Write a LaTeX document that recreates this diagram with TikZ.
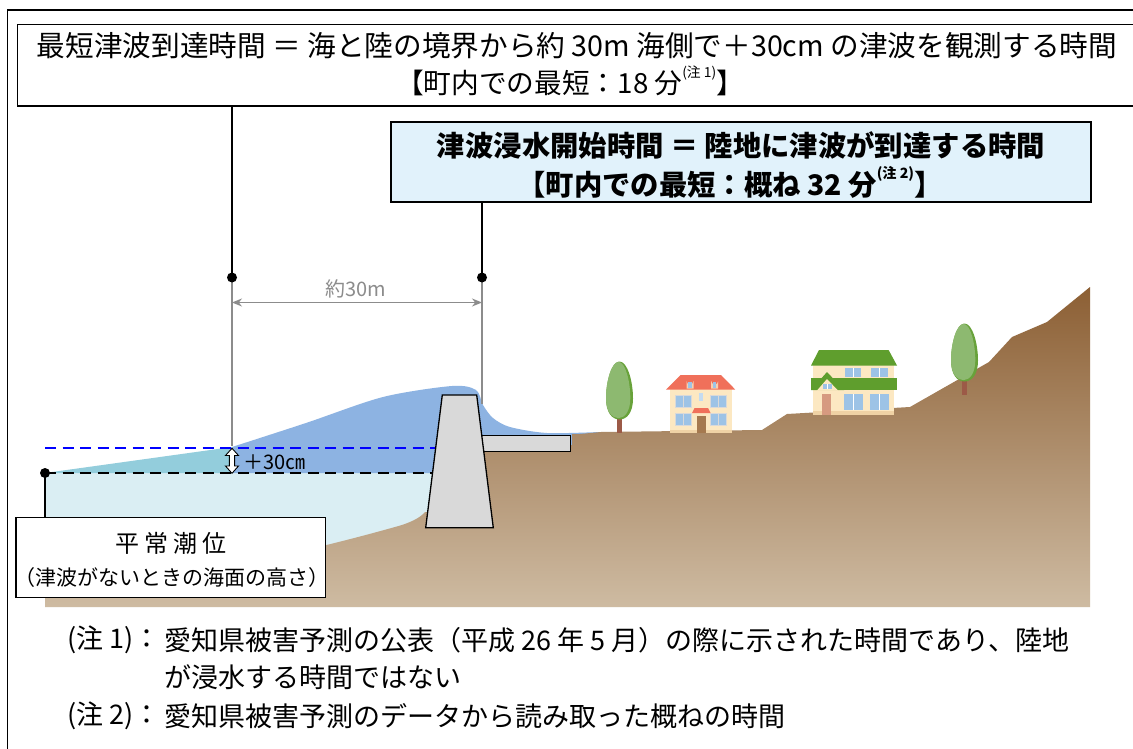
\documentclass[tikz,border=0pt]{standalone}
\usepackage{fontspec}
\setmainfont{Noto Sans CJK JP}
\usepackage{graphicx}
\usetikzlibrary{arrows.meta}

\definecolor{sealight}{HTML}{DAEEF3}
\definecolor{seateal}{HTML}{93CDDC}
\definecolor{wavecol}{HTML}{8DB3E2}
\definecolor{wallgray}{HTML}{D9D9D9}
\definecolor{boxblue}{HTML}{E1F2FB}
\definecolor{guidegray}{HTML}{8C8C8C}
\definecolor{groundtop}{HTML}{8C5F34}
\definecolor{groundmid}{HTML}{B09176}
\definecolor{groundbot}{HTML}{CEBBA2}
\definecolor{treelight}{HTML}{8DB970}
\definecolor{treedark}{HTML}{68A23A}
\definecolor{trunkcol}{HTML}{9C5A47}
\definecolor{roofred}{HTML}{F0705A}
\definecolor{roofgreen}{HTML}{5F9E2D}
\definecolor{wallcream}{HTML}{FCE8C2}
\definecolor{basecream}{HTML}{EFD2A5}
\definecolor{glass}{HTML}{9DC3E6}
\definecolor{doorbrown}{HTML}{A5794F}
\definecolor{doorpink}{HTML}{D69A80}

\newcommand\notemark[1]{\raisebox{0.6em}{\fontsize{14}{14}\selectfont #1}}

\tikzset{
  frameline/.style={line width=1.4pt, black},
  plainbox/.style={draw, line width=1.4pt, fill=white, inner sep=0pt, outer sep=0pt},
  bluebox/.style={draw, line width=2pt, fill=boxblue, inner sep=0pt, outer sep=0pt},
  guide/.style={line width=1.6pt, black},
  greyguide/.style={line width=1.6pt, guidegray},
  pin/.style={circle, fill=black, inner sep=0pt, minimum size=10pt},
  bigtext/.style={inner sep=0pt, font=\fontsize{28}{28}\selectfont},
  boldtext/.style={inner sep=0pt, font=\fontsize{28}{28}\selectfont\bfseries},
  notetext/.style={inner sep=0pt, anchor=west, font=\fontsize{27}{27}\selectfont},
  tidetext/.style={inner sep=0pt, font=\fontsize{21}{21}\selectfont},
  levelline/.style={line width=2.7pt, dash pattern=on 11pt off 6.5pt},
  outline/.style={draw=black, line width=1.3pt, line join=miter},
  winframe/.style={fill=glass, draw=white!70!gray, line width=0.6pt},
  treepic/.pic={
    \fill[trunkcol] (-2.7,50) rectangle (2.7,71.5);
    \fill[treedark] (0,0) .. controls (8,0) and (13.5,20) .. (13.5,37)
      .. controls (13.5,51) and (7.5,58) .. (0,58)
      .. controls (-7.5,58) and (-13.5,51) .. (-13.5,37)
      .. controls (-13.5,20) and (-8,0) .. (0,0) -- cycle;
    \fill[treelight] (-1,0.4) .. controls (6,0.4) and (10.8,20) .. (10.8,37)
      .. controls (10.8,50) and (5,56.6) .. (-1,56.6)
      .. controls (-7.5,56.6) and (-13.5,50) .. (-13.5,37)
      .. controls (-13.5,20) and (-8,0.4) .. (-1,0.4) -- cycle;
  }
}

\begin{document}
\begin{tikzpicture}[x=1pt,y=-1pt]
\useasboundingbox (0,0) rectangle (1133,749);
\fill[white] (0,0) rectangle (1133,749);

% ---- sea at normal tide level
\fill[sealight] (45,473) rectangle (446,600);
% ---- rising water: first 30 m (teal) and the wave reaching the sea wall (blue)
\fill[seateal] (45,473) -- (232,447) -- (232,473) -- cycle;
\fill[wavecol] (232,473) -- plot[smooth] coordinates {(232,447) (306,423) (383,397) (452,386)
  (476,390) (483,405) (493,418) (510,427) (547,433) (600,432)}
  -- (600,446) -- (480,446) -- (480,473) -- cycle;

% ---- land with its slope up to the hill
\shade[top color=groundtop, middle color=groundmid, bottom color=groundbot]
  (45,607) -- (45,590) .. controls (200,578) and (320,548) .. (395,527)
  .. controls (410,523) and (420,518) .. (425,512)
  -- (440,512) -- (440,445) -- (572,445) -- (572,434) -- (580,434) -- (601,432)
  -- (762,430) -- (787,414) -- (910,407) -- (989,362) -- (1012,337) -- (1047,322)
  -- (1090,287) -- (1090,607) -- cycle;

% ---- level lines
\draw[levelline, blue] (45,448) -- (436,448);
\draw[levelline, black] (45,473) -- (436,473);

% ---- sea wall and quay slab
\filldraw[fill=wallgray, outline] (481.7,435.7) rectangle (570.7,451.7);
\filldraw[fill=wallgray, outline] (442.3,395) -- (476.7,395) -- (493.3,527.7) -- (425.7,527.7) -- cycle;

% ---- trees
\pic at (619.5,361.5) {treepic};
\pic at (964.5,323.5) {treepic};

% ---- house with red roof
\fill[wallcream] (670,389) rectangle (732,433);
\fill[basecream] (670,429.5) rectangle (732,433);
\fill[roofred] (666,389.5) -- (735.2,389.5) -- (721,375) -- (680.5,375) -- cycle;
\fill[wallcream!80!roofred] (686.5,388.5) -- (686.5,381) arc[start angle=180, end angle=0, radius=3.5] -- (693.5,388.5) -- cycle;
\fill[wallcream!80!roofred] (711.2,388.5) -- (711.2,381) arc[start angle=180, end angle=0, radius=3.5] -- (718.2,388.5) -- cycle;
\fill[glass] (688.3,382) rectangle (691.7,387.5);
\fill[glass] (713,382) rectangle (716.4,387.5);
\foreach \wx in {675,710.5}{
  \foreach \wy in {395,413.3}{
    \filldraw[winframe] (\wx,\wy) rectangle ++(16,12);
    \draw[white!70!gray, line width=0.6pt] (\wx+8,\wy) -- ++(0,12);
  }
}
\fill[glass!60!white] (699,393) rectangle (703,401);
\fill[roofred] (692,413) -- (710.5,413) -- (708,408) -- (694.5,408) -- cycle;
\fill[doorbrown] (696.5,416) rectangle (705.5,433);

% ---- house with green roof
\fill[wallcream] (812.8,365) rectangle (893.9,415);
\fill[basecream] (812.8,411) rectangle (893.9,415);
\fill[roofgreen] (811,365.5) -- (819,350) -- (888.6,350) -- (897,365.5) -- cycle;
\fill[roofgreen] (811,377.7) rectangle (897,390);
\fill[roofgreen] (811,390) -- (827,372) -- (844,390) -- cycle;
\fill[wallcream] (817,390.5) -- (827,379) -- (838,390.5) -- cycle;
\fill[glass] (822.5,384) rectangle (831.5,389);
\draw[white, line width=0.6pt] (827,384) -- (827,389);
\fill[doorpink] (821.6,394) rectangle (831,415);
\foreach \wx in {844.6,871}{
  \fill[glass] (\wx,367.7) rectangle ++(16.5,9);
  \draw[white, line width=0.6pt] (\wx+8.25,367.7) -- ++(0,9);
}
\foreach \wx in {844,870}{
  \fill[glass] (\wx,394) rectangle ++(19,16);
  \draw[white, line width=0.6pt] (\wx+9.5,394) -- ++(0,16);
}

% ---- outer frame
\draw[frameline] (7.3,760) -- (7.3,10) -- (1140,10);

% ---- explanation boxes
\node[plainbox, anchor=north west, minimum width=1130pt, minimum height=81.5pt] (topbox) at (17.3,24.5) {};
\node[bigtext] (toptitle) at (577,46) {\resizebox{1080pt}{!}{最短津波到達時間 ＝ 海と陸の境界から約 30m 海側で＋30cm の津波を観測する時間}};
\node[bigtext] (topmin) at (570,81) {\resizebox{348pt}{!}{【町内での最短：18 分\notemark{(注 1)}】}};

\node[bluebox, anchor=north west, minimum width=700.5pt, minimum height=80pt] (floodbox) at (390.5,122) {};
\node[boldtext] (floodtitle) at (741,145) {\resizebox{608pt}{!}{津波浸水開始時間 ＝ 陸地に津波が到達する時間}};
\node[boldtext] (floodmin) at (730,182) {\resizebox{425pt}{!}{【町内での最短：概ね 32 分\notemark{(注 2)}】}};

% ---- measuring points and guides
\coordinate (obsA) at (232,277.5);
\coordinate (obsB) at (482,277.5);
\coordinate (surfA) at (232,446);
\coordinate (surfB) at (482,404);
\coordinate (dimrow) at (0,302.5);
\draw[guide] (obsA |- topbox.south) -- (obsA);
\draw[guide] (obsB |- floodbox.south) -- (obsB);
\draw[greyguide] (obsA) -- (surfA);
\draw[greyguide] (obsB) -- (surfB);
\draw[greyguide, {Stealth[length=10pt,width=8pt]}-{Stealth[length=10pt,width=8pt]}]
  (obsA |- dimrow) -- (obsB |- dimrow);
\node[inner sep=0pt, text=guidegray, font=\fontsize{20}{20}\selectfont] (dimlabel) at (356,288.5) {約30m};
\node[pin] (pinA) at (obsA) {};
\node[pin] (pinB) at (obsB) {};

% ---- +30 cm marker
\filldraw[fill=white, draw=black, line width=0.9pt, line join=miter]
  (232,448.3) -- (238.5,455.5) -- (234.6,455.5) -- (234.6,466) -- (238.5,466) -- (232,473.3)
  -- (225.5,466) -- (229.4,466) -- (229.4,455.5) -- (225.5,455.5) -- cycle;
\node[inner sep=0pt, font=\fontsize{20}{20}\selectfont] (risemark) at (274.5,462) {＋30㎝};

% ---- normal tide level
\coordinate (tideA) at (45,473);
\node[plainbox, anchor=north west, minimum width=309.5pt, minimum height=80pt] (tidebox) at (16,517.3) {};
\draw[guide] (tideA) -- (tideA |- tidebox.north);
\node[pin] (pinT) at (tideA) {};
\node[tidetext, font=\fontsize{24}{24}\selectfont] (tidename) at (171,543) {\makebox[111pt][s]{平\hfill 常\hfill 潮\hfill 位}};
\node[tidetext] (tidenote) at (172,578) {（津波がないときの海面の高さ）};

% ---- notes
\node[notetext] (noteAmark) at (67,640) {(注 1)：};
\node[notetext] (noteAtext) at (164,640) {愛知県被害予測の公表（平成 26 年 5 月）の際に示された時間であり、陸地};
\node[notetext] (noteAcont) at (164,677) {が浸水する時間ではない};
\node[notetext] (noteBmark) at (67,716) {(注 2)：};
\node[notetext] (noteBtext) at (164,716) {愛知県被害予測のデータから読み取った概ねの時間};
\end{tikzpicture}
\end{document}
